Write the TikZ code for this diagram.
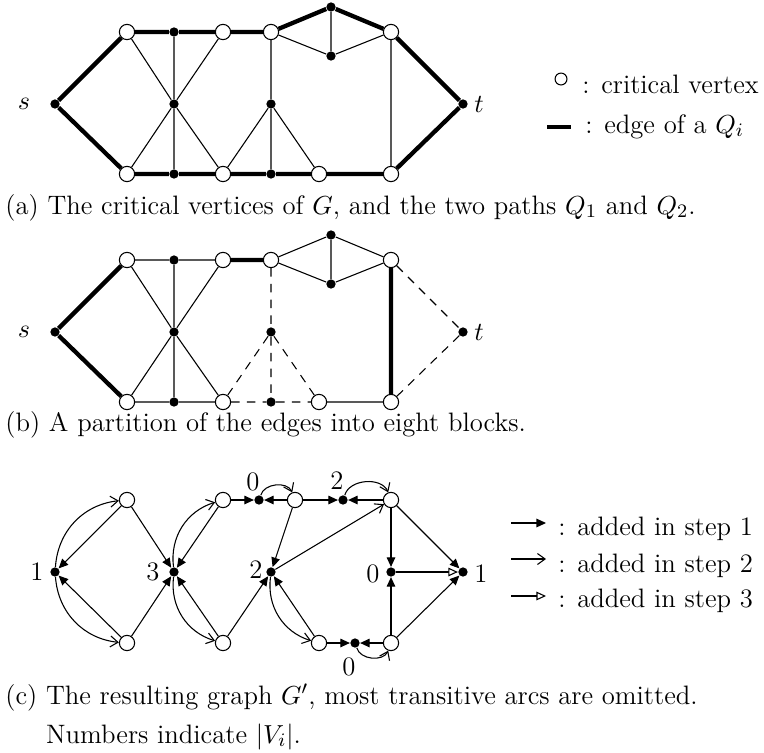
\documentclass[tikz,border=0pt]{standalone}
\usetikzlibrary{arrows.meta}
\begin{document}
\fontsize{11.2pt}{13.6pt}\selectfont
\begin{tikzpicture}[x=0.42pt,y=-0.42pt,
 wv/.style={circle,draw,fill=white,inner sep=0pt,minimum size=6.4pt,line width=0.45pt},
 bv/.style={circle,fill=black,inner sep=0pt,minimum size=3.9pt},
 thk/.style={line width=1.8pt},
 thn/.style={line width=0.45pt},
 dsh/.style={line width=0.45pt,dash pattern=on 3.6pt off 3pt},
 sa/.style={thn,-{Triangle[length=4pt,width=3.6pt]}},
 sb/.style={thn,-{Straight Barb[length=3.2pt,width=4.6pt]}},
 sc/.style={thn,-{Triangle[open,length=4pt,width=3.6pt,fill=white]}},
 lab/.style={inner sep=0pt},
 captxt/.style={inner sep=0pt,anchor=base west}
]
\useasboundingbox (0,0) rectangle (764,752);

% ---------- (a) ----------
\node[bv] (as) at (55,104) {};
\node[wv] (atl) at (127,32) {};
\node[bv] (at1) at (174,32) {};
\node[wv] (at2) at (223,32) {};
\node[wv] (at3) at (271,32) {};
\node[bv] (aap) at (331,7) {};
\node[bv] (ain) at (331,56) {};
\node[wv] (atr) at (391,32) {};
\node[bv] (at) at (463,104) {};
\node[bv] (am1) at (174,104) {};
\node[bv] (am2) at (271,104) {};
\node[wv] (abl) at (127,174) {};
\node[bv] (ab1) at (174,174) {};
\node[wv] (ab2) at (223,174) {};
\node[bv] (ab3) at (271,174) {};
\node[wv] (ab4) at (319,174) {};
\node[wv] (abr) at (391,174) {};
\draw[thk] (as)--(atl) (as)--(abl) (atl)--(at1) (at1)--(at2) (at2)--(at3)
  (at3)--(aap) (aap)--(atr) (atr)--(at) (at)--(abr)
  (abl)--(ab1) (ab1)--(ab2) (ab2)--(ab3) (ab3)--(ab4) (ab4)--(abr);
\draw[thn] (at3)--(ain) (ain)--(atr) (aap)--(ain) (atr)--(abr)
  (at1)--(am1) (am1)--(ab1) (atl)--(am1) (am1)--(ab2) (at2)--(am1) (am1)--(abl)
  (at3)--(am2) (am2)--(ab3) (am2)--(ab2) (am2)--(ab4);
\node[lab] (asl) at (24,104) {$s$};
\node[lab] (atl2) at (479,104) {$t$};
\node[wv,minimum size=5pt] (lgc) at (561,79) {};
\node[captxt] (lgct) at (582,93) {: critical vertex};
\coordinate (lgb1) at (547,127);
\coordinate (lgb2) at (571,127);
\draw[thk] (lgb1)--(lgb2);
\node[captxt] (lgbt) at (585,133) {: edge of a $Q_i$};
\node[captxt] (capa) at (5,214) {(a) The critical vertices of $G$, and the two paths $Q_1$ and $Q_2$.};

% ---------- (b) ----------
\node[bv] (bs) at (55,332) {};
\node[wv] (btl) at (127,260) {};
\node[bv] (bt1) at (174,260) {};
\node[wv] (bt2) at (223,260) {};
\node[wv] (bt3) at (271,260) {};
\node[bv] (bap) at (331,235) {};
\node[bv] (bin) at (331,284) {};
\node[wv] (btr) at (391,260) {};
\node[bv] (bt) at (463,332) {};
\node[bv] (bm1) at (174,332) {};
\node[bv] (bm2) at (271,332) {};
\node[wv] (bbl) at (127,402) {};
\node[bv] (bb1) at (174,402) {};
\node[wv] (bb2) at (223,402) {};
\node[bv] (bb3) at (271,402) {};
\node[wv] (bb4) at (319,402) {};
\node[wv] (bbr) at (391,402) {};
\draw[thk] (bs)--(btl) (bs)--(bbl) (bt2)--(bt3) (btr)--(bbr);
\draw[thn] (btl)--(bt1) (bt1)--(bt2) (bt3)--(bap) (bap)--(btr) (bt3)--(bin) (bin)--(btr)
  (bap)--(bin) (bt1)--(bm1) (bm1)--(bb1) (btl)--(bm1) (bm1)--(bb2) (bt2)--(bm1) (bm1)--(bbl)
  (bbl)--(bb1) (bb1)--(bb2) (bb4)--(bbr);
\draw[dsh] (btr)--(bt) (bt)--(bbr) (bt3)--(bm2) (bm2)--(bb3) (bm2)--(bb2) (bm2)--(bb4)
  (bb2)--(bb3) (bb3)--(bb4);
\node[lab] (bsl) at (24,332) {$s$};
\node[lab] (btl2) at (479,332) {$t$};
\node[captxt] (capb) at (5,431) {(b) A partition of the edges into eight blocks.};

% ---------- (c) ----------
\node[bv] (c1) at (55,572) {};
\node[wv] (ctl) at (127,500) {};
\node[wv] (cbl) at (127,643) {};
\node[bv] (c3) at (174,572) {};
\node[wv] (ct2) at (223,500) {};
\node[wv] (cb2) at (223,643) {};
\node[bv] (ct0) at (259,500) {};
\node[wv] (ct3) at (295,500) {};
\node[bv] (ct4) at (343,500) {};
\node[wv] (ctr) at (391,500) {};
\node[bv] (c2) at (271,572) {};
\node[bv] (c0) at (391,572) {};
\node[bv] (ct) at (463,572) {};
\node[wv] (cb3) at (319,643) {};
\node[bv] (cb4) at (355,643) {};
\node[wv] (cbr) at (391,643) {};
\draw[sa] (ctl)--(c1);
\draw[sa] (cbl)--(c1);
\draw[sa] (ctl)--(c3);
\draw[sa] (cbl)--(c3);
\draw[sa] (ct2)--(c3);
\draw[sa] (cb2)--(c3);
\draw[sa] (cb2)--(c2);
\draw[sa] (ct2)--(ct0);
\draw[sa] (ct3)--(ct0);
\draw[sa] (ct3)--(ct4);
\draw[sa] (ctr)--(ct4);
\draw[sa] (ct3)--(c2);
\draw[sa] (ctr)--(c0);
\draw[sa] (ctr)--(ct);
\draw[sa] (cbr)--(c0);
\draw[sa] (cbr)--(ct);
\draw[sa] (cb3)--(cb4);
\draw[sa] (cbr)--(cb4);
\draw[sa] (cb3)--(c2);
\draw[sb] (c1) to[bend left=40] (ctl);
\draw[sb] (c1) to[bend right=40] (cbl);
\draw[sb] (c3) to[bend left=40] (ct2);
\draw[sb] (c3) to[bend right=40] (cb2);
\draw[sb] (c2) to[bend right=40] (cb3);
\draw[sb] (ct0) to[bend left=70] (ct3);
\draw[sb] (ct4) to[bend left=70] (ctr);
\draw[sb] (cb4) to[bend right=70] (cbr);
\draw[sb] (c2)--(ctr);
\draw[sc] (c0)--(ct);
\node[lab] (l1) at (37,572) {1};
\node[lab] (l3) at (153,572) {3};
\node[lab] (l2) at (256,570) {2};
\node[lab] (l0) at (373,574) {0};
\node[lab] (l1r) at (481,574) {1};
\node[lab] (lt0) at (253,482) {0};
\node[lab] (lt2) at (337,481) {2};
\node[lab] (lb0) at (349,667) {0};
% legend (c)
\coordinate (la1) at (511,523); \coordinate (lb1) at (546,523);
\coordinate (la2) at (511,559); \coordinate (lb2) at (546,559);
\coordinate (la3) at (511,596); \coordinate (lb3) at (546,596);
\draw[sa] (la1)--(lb1);
\draw[sb] (la2)--(lb2);
\draw[sc] (la3)--(lb3);
\node[captxt] (lt1) at (558,535) {: added in step 1};
\node[captxt] (lt2t) at (558,572) {: added in step 2};
\node[captxt] (lt3) at (558,607) {: added in step 3};
\node[captxt] (capc) at (5,704) {(c) The resulting graph $G'$, most transitive arcs are omitted.};
\node[captxt] (capc2) at (5,743) {\hphantom{(c)\ }Numbers indicate $|V_i|$.};
\end{tikzpicture}
\end{document}
